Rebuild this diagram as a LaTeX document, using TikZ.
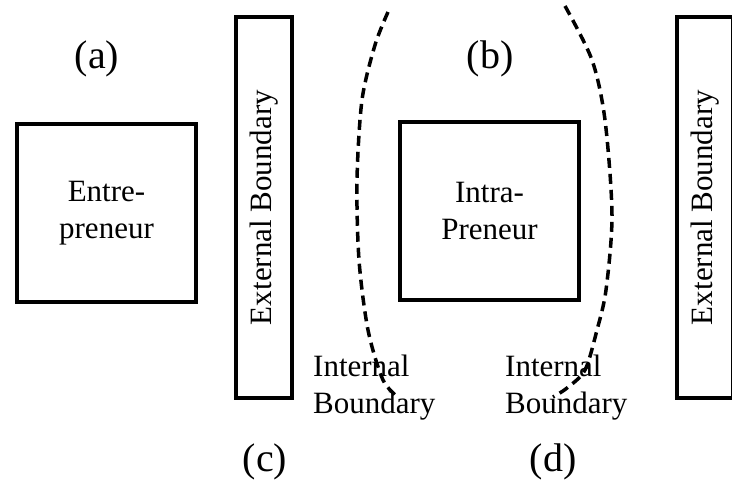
\documentclass[tikz,border=0pt]{standalone}
\usepackage{fontspec}
\setmainfont{Liberation Serif}
\begin{document}
\begin{tikzpicture}[x=1pt,y=-1pt,
  bodytext/.style={font=\fontsize{31}{37}\selectfont, align=center},
  solidbox/.style={draw, line width=4pt, bodytext, inner sep=0pt},
  caption/.style={font=\fontsize{40}{48}\selectfont, inner sep=0pt},
  note/.style={bodytext, align=left, inner sep=0pt, anchor=north west},
  boundary/.style={line width=3.5pt, dash pattern=on 10pt off 6pt}]
\useasboundingbox (0,0) rectangle (732,501);

% panel captions
\node[caption] (capA) at (97,59) {(a)};
\node[caption] (capB) at (490,59) {(b)};
\node[caption] (capC) at (265,462) {(c)};
\node[caption] (capD) at (553,462) {(d)};

% actors
\node[solidbox, minimum width=179, minimum height=178] (ent) at (106.5,213) {Entre-\\preneur};
\node[solidbox, minimum width=179, minimum height=178] (intra) at (489.5,211) {Intra-\\Preneur};

% external boundaries
\node[solidbox, rotate=90, minimum width=381, minimum height=56] (extL) at (264,207.5) {External Boundary};
\node[solidbox, rotate=90, minimum width=381, minimum height=56] (extR) at (705,207.5) {External Boundary};

% internal boundary labels
\node[note] (intL) at (313,355) {Internal\\Boundary};
\node[note] (intR) at (505,355) {Internal\\Boundary};

% internal boundary (dashed arcs)
\draw[boundary] plot[smooth] coordinates {(388,12) (375,45) (362,100) (357,180) (359,260) (368,330) (383,380) (399,398)};
\draw[boundary] plot[smooth] coordinates {(565,6) (592,60) (605,120) (612,215) (606,290) (597,330) (585,370) (567,388) (553,397)};
\end{tikzpicture}
\end{document}
